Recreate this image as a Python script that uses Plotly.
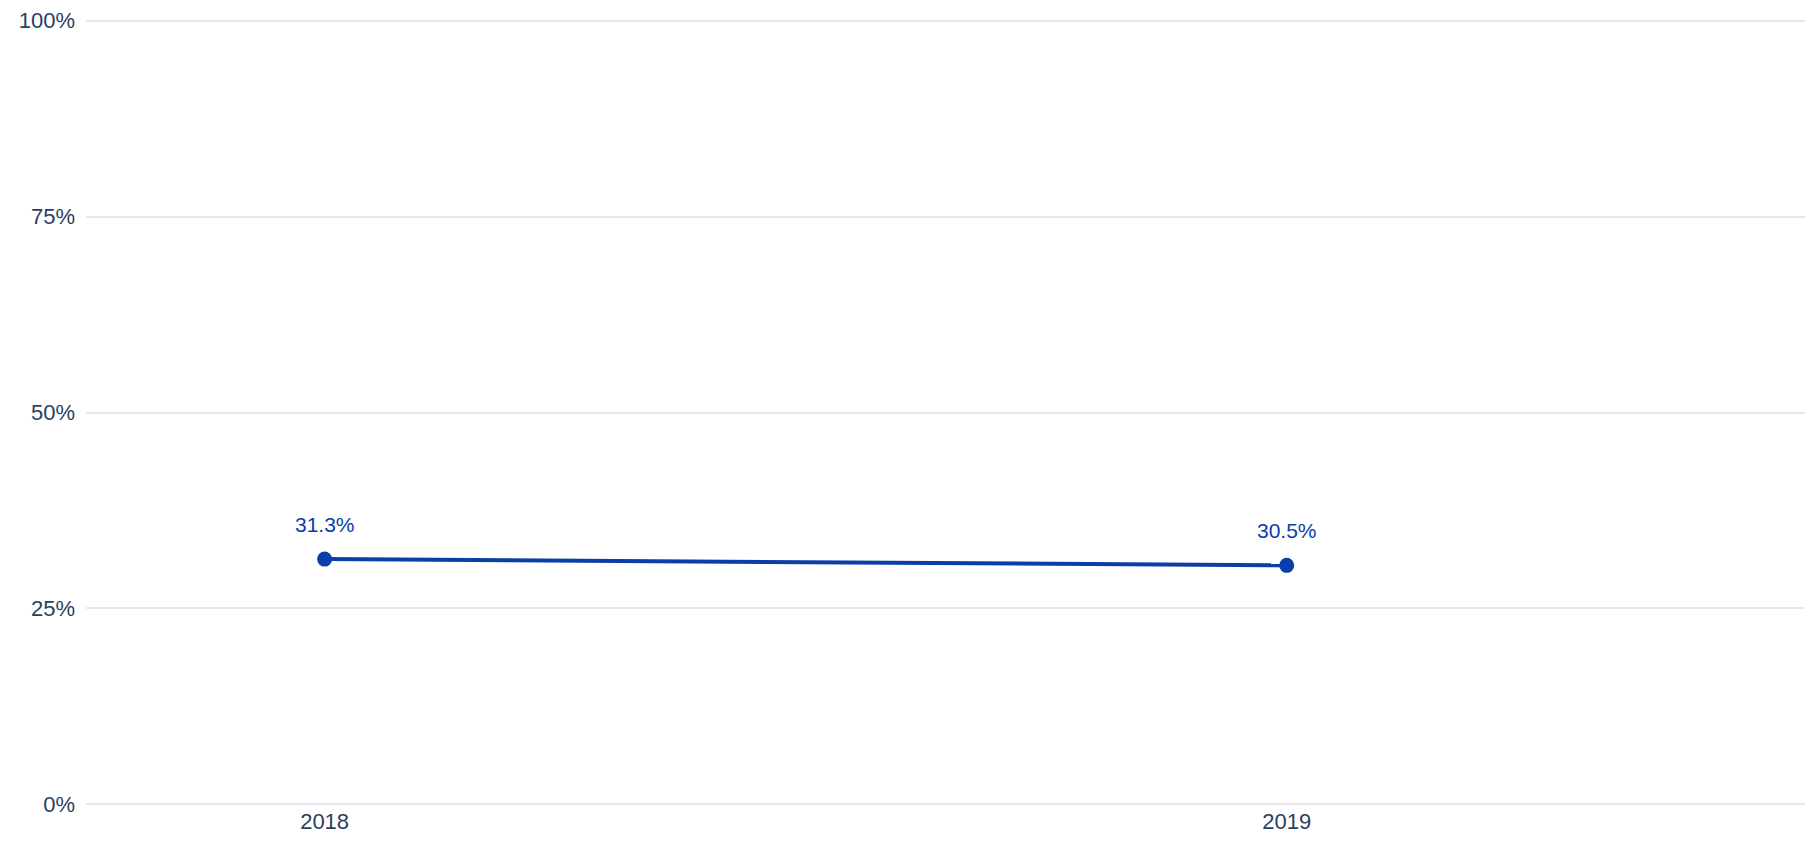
import plotly.graph_objects as go

years = [2018, 2019]
values = [0.313, 0.305]
labels = ["31.3%", "30.5%"]
y_ticks = [0, 0.25, 0.5, 0.75, 1.0]
y_tick_labels = ["0%", "25%", "50%", "75%", "100%"]

blue = "#0A3EA8"
font_family = "Liberation Sans, Arial, Helvetica, sans-serif"

fig = go.Figure()
fig.add_trace(go.Scatter(
    x=years, y=values, mode="lines+markers",
    line=dict(color=blue, width=4),
    marker=dict(color=blue, size=15),
    hoverinfo="skip", showlegend=False,
))
for x, y, t in zip(years, values, labels):
    fig.add_annotation(x=x, y=y, text=t, showarrow=False, yshift=35,
                       font=dict(color=blue, size=21, family=font_family))

fig.update_layout(
    width=1805, height=835,
    margin=dict(l=78, r=0, t=7, b=37),
    plot_bgcolor="white", paper_bgcolor="white",
    font=dict(family=font_family, size=22, color="#2a3f5f"),
    xaxis=dict(range=[2017.752, 2019.547], tickvals=years, ticktext=[str(y) for y in years],
               showgrid=False, zeroline=False, showline=False, ticks=""),
    yaxis=dict(range=[-0.002, 1.002], tickvals=y_ticks, ticktext=y_tick_labels,
               showgrid=True, gridcolor="#E5E7EB", gridwidth=1.5,
               zeroline=False, showline=False, ticks="", ticklabelstandoff=10,
               ticklabeloverflow="allow"),
)
fig.write_html("out.html")
